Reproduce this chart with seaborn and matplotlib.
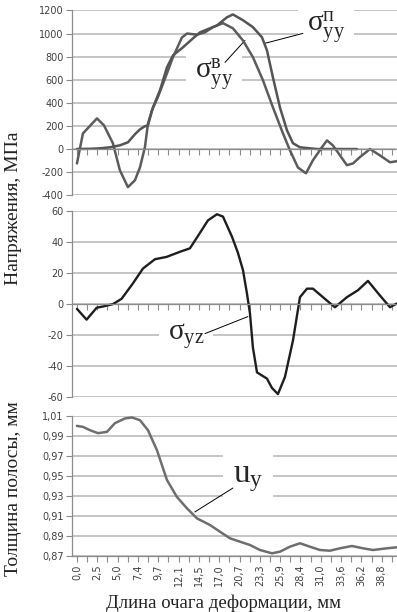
import matplotlib
matplotlib.use("Agg")
import matplotlib.pyplot as plt
import pandas as pd
import seaborn as sns

# x axis: category positions (Excel style), labelled every second category
x_labels = ["0,0", "2,5", "5,0", "7,4", "9,7", "12,1", "14,5", "17,0",
            "20,7", "23,3", "25,9", "28,4", "31,0", "33,6", "36,2", "38,8"]

# top panel: sigma^v_yy (oscillating) and sigma^p_yy (smooth), MPa
x_sv = [0, 0.59, 1.97, 2.66, 3.54, 4.23, 5.02, 5.71, 6.2, 6.69, 6.99, 7.38,
        7.97, 8.86, 9.45, 10.33, 10.83, 11.81, 12.6, 13.39, 14.37, 15.35,
        16.34, 17.32, 18.31, 19.29, 20.28, 20.96, 21.75, 22.54, 23.23, 24.11,
        24.61, 25.2, 25.89, 26.57, 27.17, 27.85, 28.84, 29.82, 30.81, 31.5]
sigma_v = [-125, 135, 265, 205, 50, -185, -330, -270, -160, 15, 220, 335,
           450, 655, 795, 965, 1000, 990, 1010, 1055, 1090, 1045,
           940, 795, 595, 360, 135, -10, -160, -210, -97, 15,
           75, 30, -55, -140, -125, -70, 0, -55, -115, -105]

x_sp = [0, 1.28, 2.26, 3.25, 4.23, 5.02, 5.71, 6.2, 6.69, 6.99, 7.48, 8.17,
        8.86, 9.45, 10.43, 11.42, 12.11, 13.78, 14.76, 15.35, 16.34, 17.32,
        18.21, 18.7, 19.29, 19.98, 20.67, 21.26, 21.95, 23.62, 27.56]
sigma_p = [0, 2, 6, 15, 32, 58, 128, 170, 197, 205, 360, 508,
           707, 810, 880, 958, 1010, 1070, 1140, 1165, 1115, 1055,
           967, 855, 620, 360, 162, 50, 15, 0, 0]

# middle panel: sigma_yz
x_yz = [0, 0.95, 1.94, 2.56, 3.54, 4.4, 5.51, 6.5, 7.68, 8.83, 10.14, 11.12,
        12.11, 12.89, 13.78, 14.37, 15.26, 15.85, 16.34, 16.73, 17.03, 17.32,
        17.72, 18.7, 19.19, 19.78, 20.47, 21.26, 21.95, 22.64, 23.23, 24.21,
        25.39, 26.57, 27.66, 28.64, 29.82, 30.81, 31.5]
sigma_yz = [-3, -10, -2.3, -1.5, 0, 3.5, 13.4, 23, 29, 30.5, 33.8, 36,
            46, 54, 58, 56.5, 43.5, 33, 22, 7, -6, -28,
            -44, -48, -54, -58, -47, -23.5, 4.5, 10, 10, 4.5,
            -2, 4.5, 9, 15, 5.6, -2, 0.5]

# bottom panel: strip thickness u_y, mm
x_uy = [0, 0.59, 1.28, 2.07, 2.95, 3.74, 4.72, 5.41, 6.2, 6.99, 7.87, 8.86,
        9.84, 10.83, 11.81, 13.09, 14.07, 15.06, 16.04, 17.03, 18.01, 19.19,
        19.98, 20.96, 21.95, 22.93, 23.92, 24.9, 25.89, 27.07, 28.15, 29.13,
        30.51, 31.5]
u_y = [1.000, 0.999, 0.9957, 0.9927, 0.994, 1.0027, 1.0074, 1.0084, 1.0057,
       0.9957, 0.9758, 0.9459, 0.929, 0.9176, 0.9076, 0.901, 0.8943, 0.8877,
       0.8843, 0.881, 0.876, 0.8727, 0.8743, 0.8793, 0.8827, 0.8793, 0.876,
       0.8753, 0.8777, 0.88, 0.8777, 0.876, 0.8777, 0.8787]

top_ticks = [-400, -200, 0, 200, 400, 600, 800, 1000, 1200]
mid_ticks = [-60, -40, -20, 0, 20, 40, 60]
bot_ticks = [0.87, 0.89, 0.91, 0.93, 0.95, 0.97, 0.99, 1.01]

sns.set_theme(style="white")
plt.rcParams["font.family"] = ["DejaVu Sans"]
plt.rcParams["mathtext.fontset"] = "custom"
plt.rcParams["mathtext.rm"] = "Liberation Serif"
plt.rcParams["mathtext.it"] = "Liberation Serif"

grid_c = "#b5b5b5"
axis_c = "#8c8c8c"
serif = ["Liberation Serif", "DejaVu Serif"]


def style_axis(ax, ticks, labels, zero_axis):
    ax.set_xlim(-0.5, 31.5)
    ax.set_ylim(ticks[0], ticks[-1])
    ax.set_yticks(ticks)
    ax.set_yticklabels(labels)
    ax.yaxis.grid(True, color=grid_c, lw=1.1)
    ax.xaxis.grid(False)
    ax.set_axisbelow(True)
    for s in ["top", "right"]:
        ax.spines[s].set_visible(False)
    ax.spines["left"].set_color(axis_c)
    ax.spines["bottom"].set_color(axis_c)
    ax.spines["left"].set_linewidth(0.9)
    ax.spines["bottom"].set_linewidth(0.9)
    if zero_axis:
        ax.spines["bottom"].set_position(("data", 0))
    ax.set_xticks(range(32))
    ax.tick_params(axis="both", direction="out", length=4, width=0.8,
                   color=axis_c, labelsize=7, labelcolor="#404040",
                   bottom=True, left=True, pad=2)
    ax.set_xlabel("")
    ax.set_ylabel("")


def label(ax, text, pos, tip, start, size):
    # white box hides the grid behind the label, thin leader drawn on top
    ax.text(pos[0], pos[1], text, fontsize=size, va="center", ha="left",
            bbox=dict(boxstyle="square,pad=0.3", fc="white", ec="none"), zorder=1)
    ax.annotate("", xy=tip, xytext=start, zorder=1.5,
                arrowprops=dict(arrowstyle="-", color="black", lw=0.7,
                                shrinkA=0, shrinkB=0))


fig = plt.figure(figsize=(3.97, 6.12), dpi=100)
ax1 = fig.add_axes([0.181, 0.681, 0.819, 0.302])
ax2 = fig.add_axes([0.181, 0.351, 0.819, 0.304])
ax3 = fig.add_axes([0.181, 0.0915, 0.819, 0.229])

df_v = pd.DataFrame({"x": x_sv, "y": sigma_v})
df_p = pd.DataFrame({"x": x_sp, "y": sigma_p})
df_yz = pd.DataFrame({"x": x_yz, "y": sigma_yz})
df_u = pd.DataFrame({"x": x_uy, "y": u_y})

sns.lineplot(data=df_v, x="x", y="y", ax=ax1, color="#5c5c5c", lw=1.8, estimator=None)
sns.lineplot(data=df_p, x="x", y="y", ax=ax1, color="#555555", lw=1.8, estimator=None)
sns.lineplot(data=df_yz, x="x", y="y", ax=ax2, color="#1e1e1e", lw=1.7, estimator=None)
sns.lineplot(data=df_u, x="x", y="y", ax=ax3, color="#6e6e6e", lw=1.8, estimator=None)

style_axis(ax1, top_ticks, [str(t) for t in top_ticks], True)
style_axis(ax2, mid_ticks, [str(t) for t in mid_ticks], True)
style_axis(ax3, bot_ticks, [f"{t:.2f}".replace(".", ",") for t in bot_ticks], False)

ax1.tick_params(axis="x", labelbottom=False)
ax2.tick_params(axis="x", labelbottom=False)
xt = [x_labels[i // 2] if i % 2 == 0 and i // 2 < len(x_labels) else "" for i in range(32)]
ax3.set_xticklabels(xt, rotation=90)

label(ax1, r"$\mathrm{σ^{п}_{yy}}$", (22.6, 1053), (18.5, 915), (22.24, 1001), 21)
label(ax1, r"$\mathrm{σ^{в}_{yy}}$", (11.6, 640), (16.54, 940), (14.57, 750), 21)
label(ax2, r"$\mathrm{σ_{yz}}$", (8.96, -20.3), (16.83, -8), (12.6, -19), 21)
label(ax3, r"$\mathrm{u_{y}}$", (15.35, 0.9488), (11.6, 0.914), (15.35, 0.9379), 24)

fig.text(0.033, 0.66, "Напряжения, МПа", rotation=90, ha="center", va="center",
         fontsize=14, family=serif, color="#222222")
fig.text(0.033, 0.201, "Толщина полосы, мм", rotation=90, ha="center", va="center",
         fontsize=14, family=serif, color="#222222")
fig.text(0.564, 0.015, "Длина очага деформации, мм", ha="center", va="center",
         fontsize=13.5, family=serif, color="#222222")

fig.savefig("out.png", dpi=100)
